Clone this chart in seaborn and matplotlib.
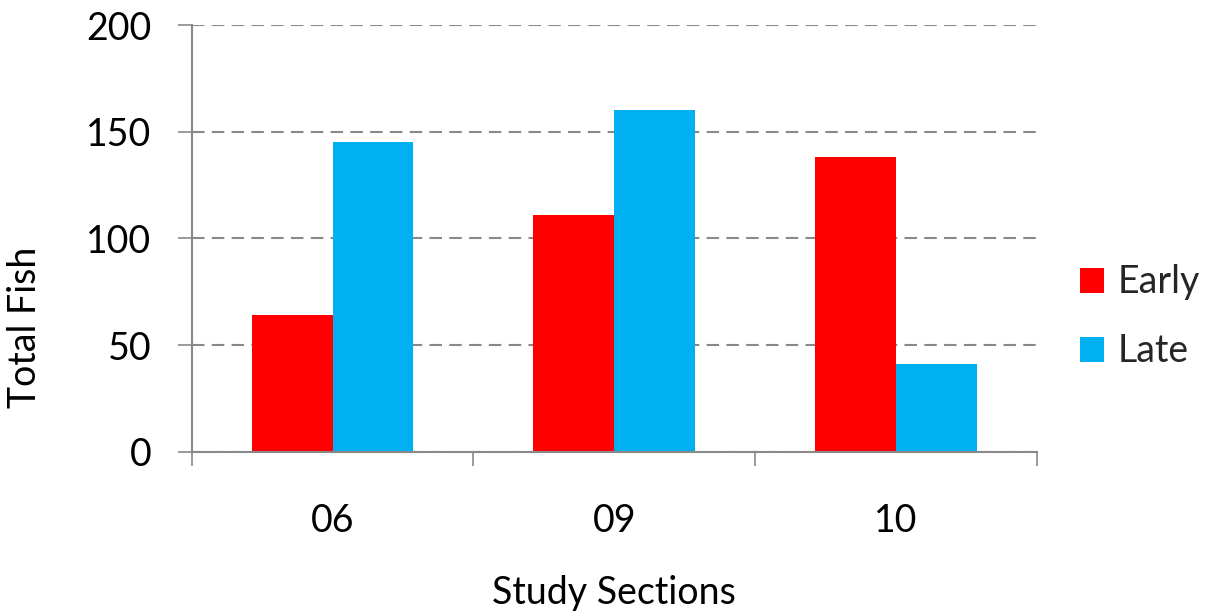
import matplotlib
matplotlib.use("Agg")
import matplotlib.pyplot as plt
import seaborn as sns
import pandas as pd

sections = ["06", "09", "10"]
early = [64, 111, 138]
late = [145, 160, 41]
series_names = ["Early", "Late"]
colors = {"Early": "#FF0000", "Late": "#00B0F0"}
y_ticks = [0, 50, 100, 150, 200]

df = pd.DataFrame({
    "Section": sections * 2,
    "Total": early + late,
    "Period": ["Early"] * len(sections) + ["Late"] * len(sections),
})

sns.set_theme(style="white")
plt.rcParams["font.family"] = ["Lato", "DejaVu Sans"]

W, H = 1213, 616
fig = plt.figure(figsize=(W / 100, H / 100), dpi=100)
ax = fig.add_axes([191.7 / W, 1 - 451.7 / H, (1036.7 - 191.7) / W, (451.7 - 25) / H])

sns.barplot(data=df, x="Section", y="Total", hue="Period", order=sections,
            hue_order=series_names, palette=colors, saturation=1,
            width=0.574, gap=0, edgecolor="none", linewidth=0, ax=ax,
            legend=True)

grey = "#898989"
ax.set_xlim(-0.5, 2.5)
ax.set_ylim(0, 200)
ax.set_yticks(y_ticks)
ax.set_yticklabels([str(v) for v in y_ticks])
ax.yaxis.grid(True, color=grey, linestyle=(0, (6, 3.5)), linewidth=1.5)
ax.xaxis.grid(False)
ax.set_axisbelow(True)

for s in ["top", "right"]:
    ax.spines[s].set_visible(False)
for s in ["left", "bottom"]:
    ax.spines[s].set_color(grey)
    ax.spines[s].set_linewidth(1.5)

fs = 27
ax.tick_params(axis="y", which="major", direction="out", length=10, width=1.2,
               color=grey, pad=19, labelsize=fs, labelcolor="black", left=True)
ax.tick_params(axis="x", which="major", length=0, pad=37, labelsize=fs,
               labelcolor="black")
ax.set_xticks([-0.5, 0.5, 1.5, 2.5], minor=True)
ax.tick_params(axis="x", which="minor", direction="out", length=10, width=1.2,
               color=grey, bottom=True)

ax.set_xlabel("Study Sections", fontsize=fs, color="black")
ax.set_ylabel("Total Fish", fontsize=fs, color="black")
ax.xaxis.set_label_coords(0.5, -0.29)
ax.yaxis.set_label_coords(-0.176, 0.292)

handles, labels = ax.get_legend_handles_labels()
ax.legend(handles, labels, frameon=False, fontsize=fs,
          loc="center left", bbox_to_anchor=(1080 / W, 1 - 317 / H),
          bbox_transform=fig.transFigure,
          handlelength=0.65, handleheight=0.65, handletextpad=0.36,
          labelspacing=0.88, borderpad=0, borderaxespad=0)

fig.savefig("out.png", dpi=100)
